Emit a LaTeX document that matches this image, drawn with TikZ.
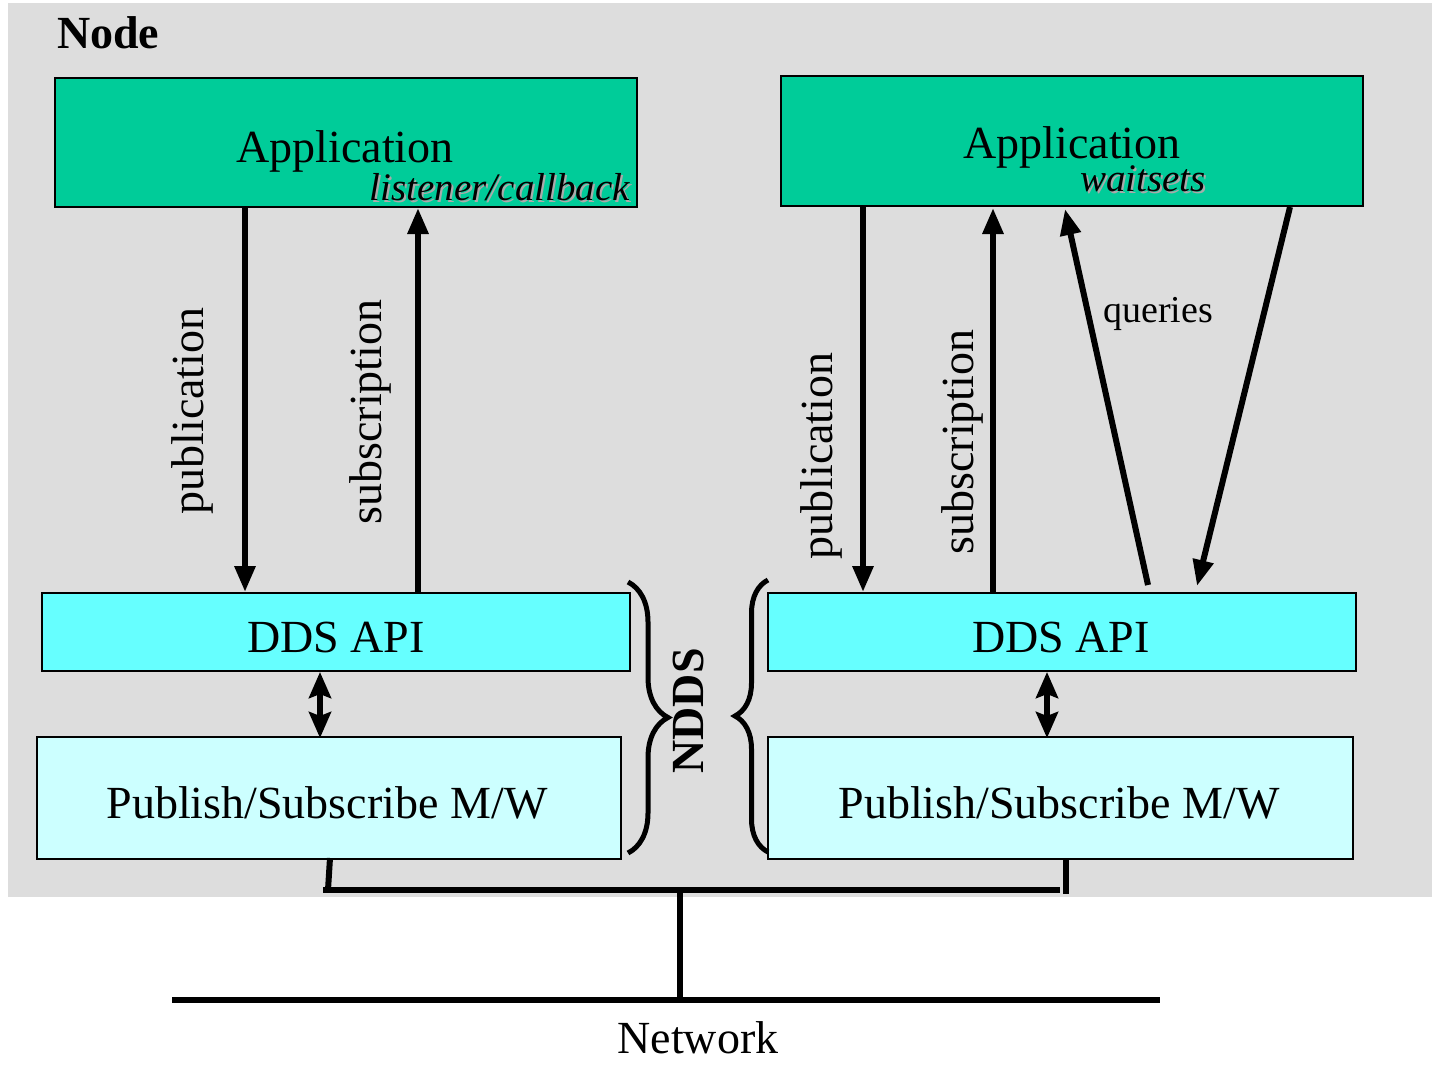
\documentclass[tikz,border=0pt]{standalone}
\usepackage{fontspec}
\setmainfont{Liberation Serif}
\usetikzlibrary{arrows.meta,decorations.pathreplacing,calc}
\definecolor{bggray}{HTML}{DDDDDD}
\definecolor{appgreen}{HTML}{00CC99}
\definecolor{ddscyan}{HTML}{66FFFF}
\definecolor{pscyan}{HTML}{CCFFFF}
\definecolor{shadowgray}{HTML}{AAAAAA}
\begin{document}
\begin{tikzpicture}[x=1pt,y=-1pt,
  box/.style={draw=black, line width=2pt, inner sep=0pt, anchor=north west},
  big/.style={font=\fontsize{46}{50}\selectfont, inner sep=0pt},
  ital/.style={font=\fontsize{39}{42}\selectfont\itshape, inner sep=0pt},
  small/.style={font=\fontsize{38}{42}\selectfont, inner sep=0pt},
  bold/.style={font=\fontsize{46}{50}\selectfont\bfseries, inner sep=0pt},
  flow/.style={line width=6pt, -{Triangle[length=26pt,width=20pt]}},
  dbl/.style={line width=6pt, {Stealth[length=26pt,width=22pt,inset=4pt]}-{Stealth[length=26pt,width=22pt,inset=4pt]}},
  bus/.style={line width=6pt},
  bracestyle/.style={line width=5pt, decorate}
]
\useasboundingbox (0,0) rectangle (1435,1068);
\fill[bggray] (8,3) rectangle (1432,897);

\node[bold, anchor=base west] (nodelbl) at (57,48) {Node};

% Application boxes
\node[box, fill=appgreen, minimum width=582pt, minimum height=129pt] (appL) at (54,77) {};
\node[box, fill=appgreen, minimum width=582pt, minimum height=130pt] (appR) at (780,75) {};
\node[big, anchor=base] (appLt) at (345,162) {Application};
\node[big, anchor=base] (appRt) at (1072,158) {Application};
\node[ital, anchor=base east, text=shadowgray] (lcbS) at (632,202) {listener/callback};
\node[ital, anchor=base east] (lcb) at (630,200) {listener/callback};
\node[ital, anchor=base west, text=shadowgray] (wsS) at (1082,193) {waitsets};
\node[ital, anchor=base west] (ws) at (1080,191) {waitsets};

% DDS API boxes
\node[box, fill=ddscyan, minimum width=588pt, minimum height=78pt] (ddsL) at (41,592) {};
\node[box, fill=ddscyan, minimum width=588pt, minimum height=78pt] (ddsR) at (767,592) {};
\node[big, anchor=base] (ddsLt) at (336,652) {DDS API};
\node[big, anchor=base] (ddsRt) at (1061,652) {DDS API};

% Publish/Subscribe boxes
\node[box, fill=pscyan, minimum width=584pt, minimum height=122pt] (psL) at (36,736) {};
\node[box, fill=pscyan, minimum width=585pt, minimum height=122pt] (psR) at (767,736) {};
\node[big, anchor=base] (psLt) at (327,818) {Publish/Subscribe M/W};
\node[big, anchor=base] (psRt) at (1059,818) {Publish/Subscribe M/W};

% x positions of connectors
\coordinate (xpubL) at (245,0);
\coordinate (xsubL) at (418,0);
\coordinate (xdblL) at (320,0);
\coordinate (xpubR) at (863,0);
\coordinate (xsubR) at (993,0);
\coordinate (xdblR) at (1047,0);
\coordinate (q1a) at (1148,0);
\coordinate (q1b) at (1065,0);
\coordinate (q2a) at (1290,0);
\coordinate (q2b) at (1197,0);

% left arrows
\draw[flow] (appL.south -| xpubL) -- (ddsL.north -| xpubL);
\draw[flow] (ddsL.north -| xsubL) -- (appL.south -| xsubL);
\draw[dbl] (ddsL.south -| xdblL) -- ($(psL.north -| xdblL)+(0,2)$);
% right arrows
\draw[flow] (appR.south -| xpubR) -- (ddsR.north -| xpubR);
\draw[flow] (ddsR.north -| xsubR) -- ($(appR.south -| xsubR)+(0,1)$);
\draw[dbl] (ddsR.south -| xdblR) -- ($(psR.north -| xdblR)+(0,2)$);
\draw[flow] ($(ddsR.north -| q1a)+(0,-7)$) -- ($(appR.south -| q1b)+(0,2)$);
\draw[flow] (appR.south -| q2a) -- ($(ddsR.north -| q2b)+(0,-6)$);

% rotated labels
\node[big, rotate=90] (pubLl) at (192,411) {publication};
\node[big, rotate=90] (subLl) at (370,412) {subscription};
\node[big, rotate=90] (pubRl) at (821,456) {publication};
\node[big, rotate=90] (subRl) at (962,442) {subscription};
\node[small, anchor=base west] (qry) at (1103,322) {queries};

% braces and NDDS
\coordinate (brLt) at (628,582);
\coordinate (brLb) at (628,853);
\coordinate (brRt) at (768,580);
\coordinate (brRb) at (768,852);
\draw[bracestyle, decoration={brace, amplitude=40pt, aspect=0.5}] (brLt) -- (brLb);
\draw[bracestyle, decoration={brace, amplitude=33pt, aspect=0.5}] (brRb) -- (brRt);
\node[bold, rotate=90] (ndds) at (688,711) {NDDS};

% network
\coordinate (busLt) at (330,858);
\coordinate (busL) at (328,890);
\coordinate (busLe) at (323,890);
\coordinate (busRt) at (1066,858);
\coordinate (busRb) at (1066,894);
\coordinate (busRe) at (1060,890);
\coordinate (hub) at (680,890);
\coordinate (netC) at (680,1000);
\coordinate (netL) at (172,1000);
\coordinate (netR) at (1160,1000);
\draw[bus] (busLt) -- (busL);
\draw[bus] (busLe) -- (busRe);
\draw[bus] (busRt) -- (busRb);
\draw[bus] (hub) -- (netC);
\draw[bus] (netL) -- (netR);
\node[big, anchor=base] (netlbl) at (698,1053) {Network};
\end{tikzpicture}
\end{document}
